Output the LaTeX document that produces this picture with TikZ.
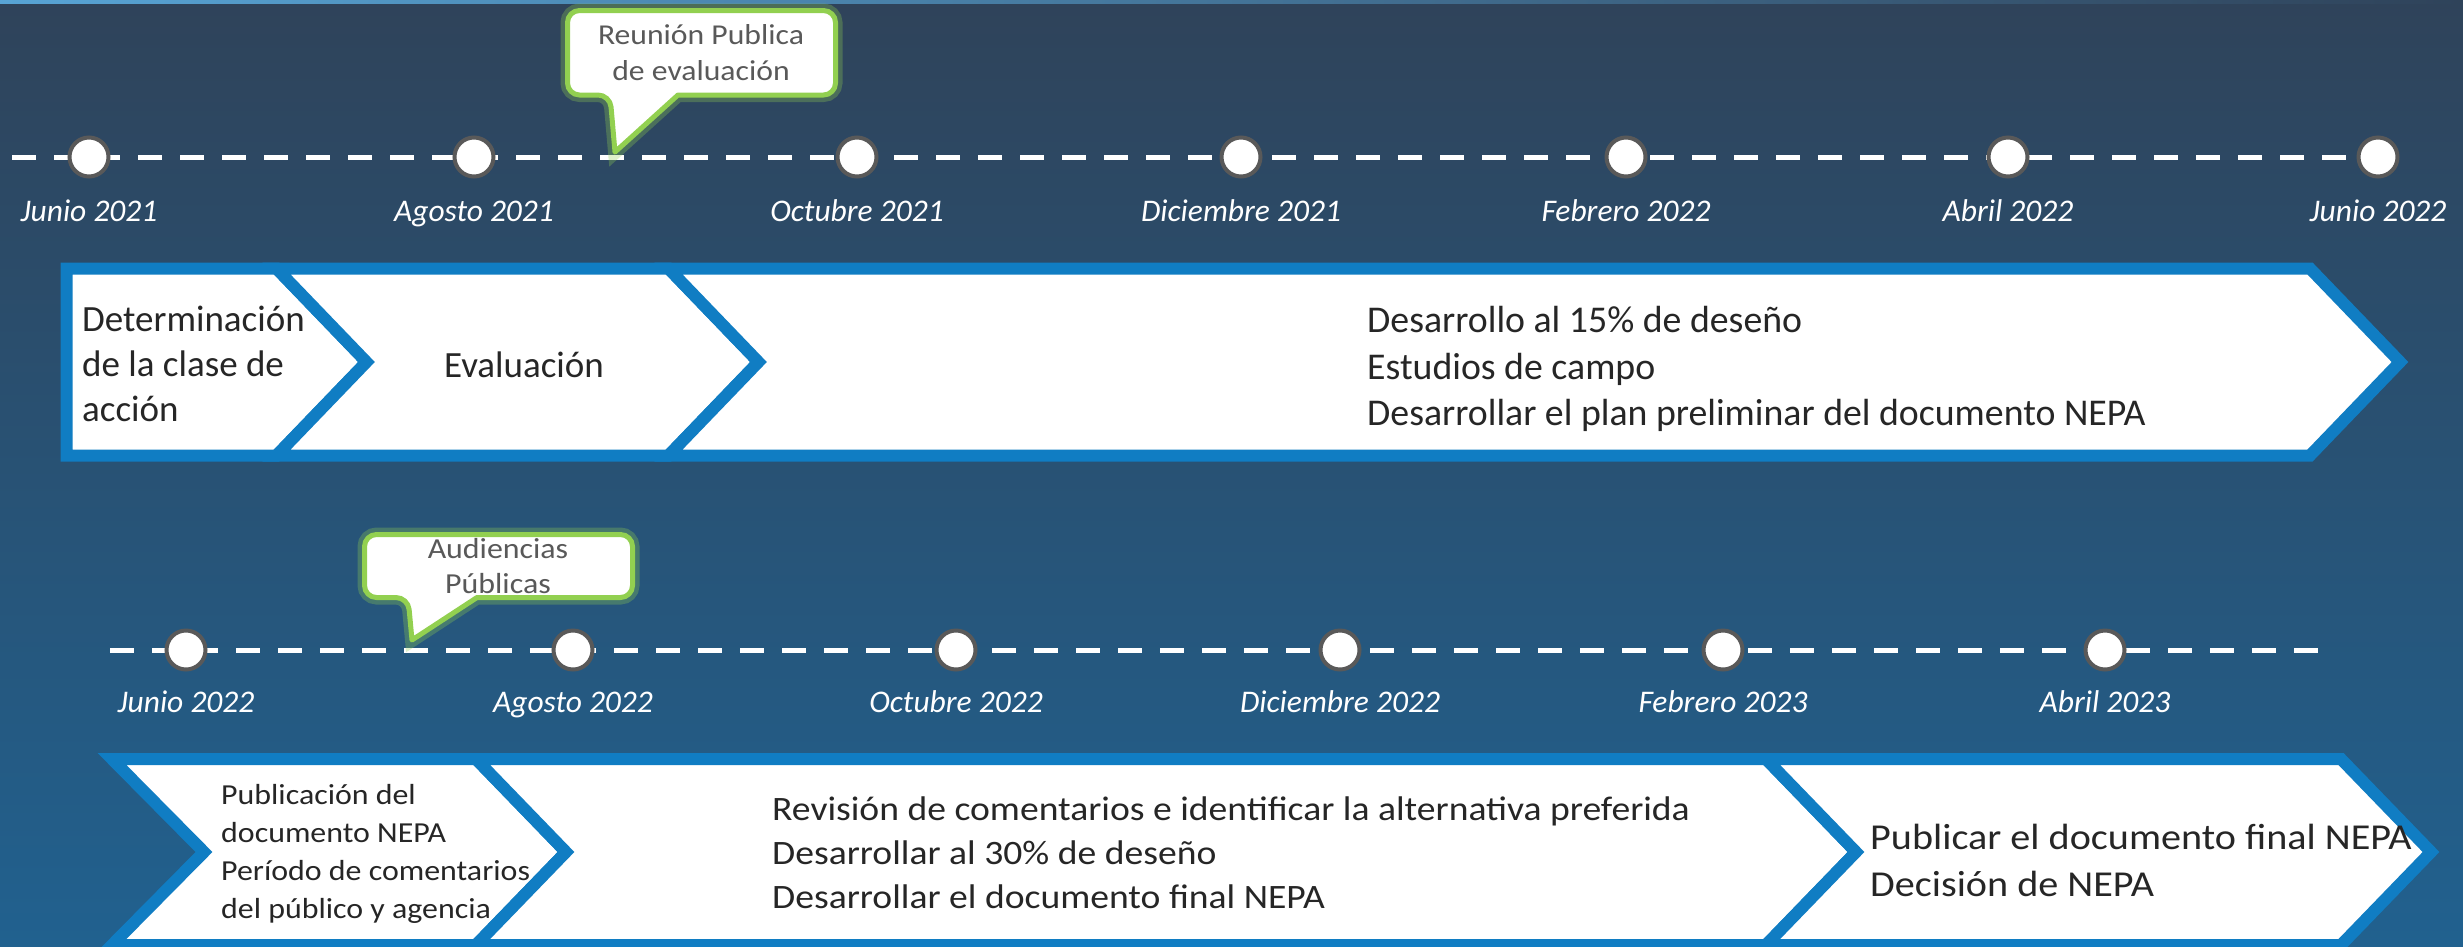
\documentclass[tikz,border=0pt]{standalone}
\usepackage{fontspec}
\setmainfont{Carlito}
\newfontfamily\widefont{Carlito}[FakeStretch=1.1]
\usepackage{xcolor}
\usetikzlibrary{positioning}

\definecolor{bgtop}{RGB}{47,67,90}
\definecolor{bgbottom}{RGB}{33,97,143}
\definecolor{boxblue}{RGB}{16,125,195}
\definecolor{bubblegreen}{RGB}{146,208,80}
\definecolor{dotgray}{RGB}{89,89,89}
\definecolor{bodytext}{RGB}{38,38,38}

\newcommand{\fsz}[2]{\fontsize{#1}{#2}\selectfont}

\begin{document}
\begin{tikzpicture}[x=1pt, y=-1pt,
    chev/.style={draw=boxblue, fill=white, line width=12pt, line join=miter},
    timeline/.style={draw=white, line width=5pt, dash pattern=on 24pt off 18pt},
    dot/.style={circle, draw=dotgray, fill=white, line width=4pt, minimum size=39pt, inner sep=0pt},
    datelbl/.style={font=\fsz{31.5}{37}\itshape, text=white, inner sep=0pt, text height=22pt, text depth=7pt},
    phase/.style={font=\fsz{37}{45}, text=bodytext, align=left, inner sep=0pt},
    phasemid/.style={font=\widefont\fsz{34.2}{44}, text=bodytext, align=left, inner sep=0pt},
    phasesmall/.style={font=\widefont\fsz{29}{38}, text=bodytext, align=left, inner sep=0pt},
    bubble/.style={draw=bubblegreen, fill=white, line width=5pt, line join=round,
        preaction={draw=bubblegreen, line width=14pt, opacity=0.3}},
    bubbletext/.style={font=\widefont\fsz{28.8}{36}, text=dotgray, align=center, inner sep=0pt}
]
    % background
    \fill[top color=bgtop, bottom color=bgbottom] (0,0) rectangle (2463,946);
    \fill[left color=boxblue!70!white, right color=bgtop] (0,0) rectangle (2463,3);
    \useasboundingbox (0,0) rectangle (2463,946);

    % first timeline
    \coordinate (t1s) at (12,157);
    \coordinate (t1e) at (2395,157);
    \draw[timeline] (t1s) -- (t1e);

    % callout 1
    \coordinate (tip1) at (615,152);
    \draw[bubble] (567.5,50) [rounded corners=12pt] -- (567.5,95) -- (610,95) [sharp corners] -- (tip1)
        -- (678,95) [rounded corners=12pt] -- (835.5,95) -- (835.5,10.5) -- (567.5,10.5) -- cycle;
    \node[bubbletext] (rp) at (701,53) {Reunión Publica\\de evaluación};

    \node[dot] (m1) at (89,157) {};
    \node[dot] (m2) at (474,157) {};
    \node[dot] (m3) at (857,157) {};
    \node[dot] (m4) at (1241,157) {};
    \node[dot] (m5) at (1626,157) {};
    \node[dot] (m6) at (2008,157) {};
    \node[dot] (m7) at (2378,157) {};

    \node[datelbl, below=21pt of m1] (lm1) {Junio 2021};
    \node[datelbl, below=21pt of m2] (lm2) {Agosto 2021};
    \node[datelbl, below=21pt of m3] (lm3) {Octubre 2021};
    \node[datelbl, below=21pt of m4] (lm4) {Diciembre 2021};
    \node[datelbl, below=21pt of m5] (lm5) {Febrero 2022};
    \node[datelbl, below=21pt of m6] (lm6) {Abril 2022};
    \node[datelbl, below=21pt of m7] (lm7) {Junio 2022};

    % first row of phases
    \draw[chev] (66.5,268.5) -- (276.5,268.5) -- (366.5,362) -- (276.5,455.5) -- (66.5,455.5) -- cycle;
    \draw[chev] (276.5,268.5) -- (668.5,268.5) -- (758.5,362) -- (668.5,455.5) -- (276.5,455.5) -- (366.5,362) -- cycle;
    \draw[chev] (668.5,268.5) -- (2310,268.5) -- (2400,362) -- (2310,455.5) -- (668.5,455.5) -- (758.5,362) -- cycle;

    \node[phase, anchor=west] (det) at (82,364) {Determinación\\de la clase de\\acción};
    \node[phase] (eval) at (524,365) {Evaluación};
    \node[phase, anchor=west, font=\fsz{37.8}{46.5}] (des15) at (1367,369) {Desarrollo al 15\% de deseño\\Estudios de campo\\Desarrollar el plan preliminar del documento NEPA};

    % second timeline
    \coordinate (t2s) at (110,650);
    \coordinate (t2e) at (2322,650);
    \draw[timeline] (t2s) -- (t2e);

    % callout 2
    \coordinate (tip2) at (412,640);
    \draw[bubble] (364.5,566) [rounded corners=12pt] -- (364.5,597.5) -- (408,597.5) [sharp corners] -- (tip2)
        -- (477,597.5) [rounded corners=12pt] -- (632.5,597.5) -- (632.5,534.5) -- (364.5,534.5) -- cycle;
    \node[bubbletext, font=\widefont\fsz{29}{35}] (aud) at (498,566) {Audiencias\\Públicas};

    \node[dot] (n1) at (186,650) {};
    \node[dot] (n2) at (573,650) {};
    \node[dot] (n3) at (956,650) {};
    \node[dot] (n4) at (1340,650) {};
    \node[dot] (n5) at (1723,650) {};
    \node[dot] (n6) at (2105,650) {};

    \node[datelbl, below=19pt of n1] (ln1) {Junio 2022};
    \node[datelbl, below=19pt of n2] (ln2) {Agosto 2022};
    \node[datelbl, below=19pt of n3] (ln3) {Octubre 2022};
    \node[datelbl, below=19pt of n4] (ln4) {Diciembre 2022};
    \node[datelbl, below=19pt of n5] (ln5) {Febrero 2023};
    \node[datelbl, below=19pt of n6] (ln6) {Abril 2023};

    % second row of phases
    \draw[chev] (112,759) -- (476,759) -- (566,852) -- (476,945) -- (112,945) -- (204,852) -- cycle;
    \draw[chev] (476,759) -- (1766,759) -- (1856,852) -- (1766,945) -- (476,945) -- (566,852) -- cycle;
    \draw[chev] (1766,759) -- (2341,759) -- (2431,852) -- (2341,945) -- (1766,945) -- (1856,852) -- cycle;

    \node[phasesmall, anchor=west] (pub) at (221,854) {Publicación del\\documento NEPA\\Período de comentarios\\del público y agencia};
    \node[phasemid, anchor=west] (rev) at (772,853) {Revisión de comentarios e identificar la alternativa preferida\\Desarrollar al 30\% de deseño\\Desarrollar el documento final NEPA};
    \node[phasemid, anchor=west, font=\widefont\fsz{36.5}{47}] (fin) at (1870,860) {Publicar el documento final NEPA\\Decisión de NEPA};
\end{tikzpicture}
\end{document}
